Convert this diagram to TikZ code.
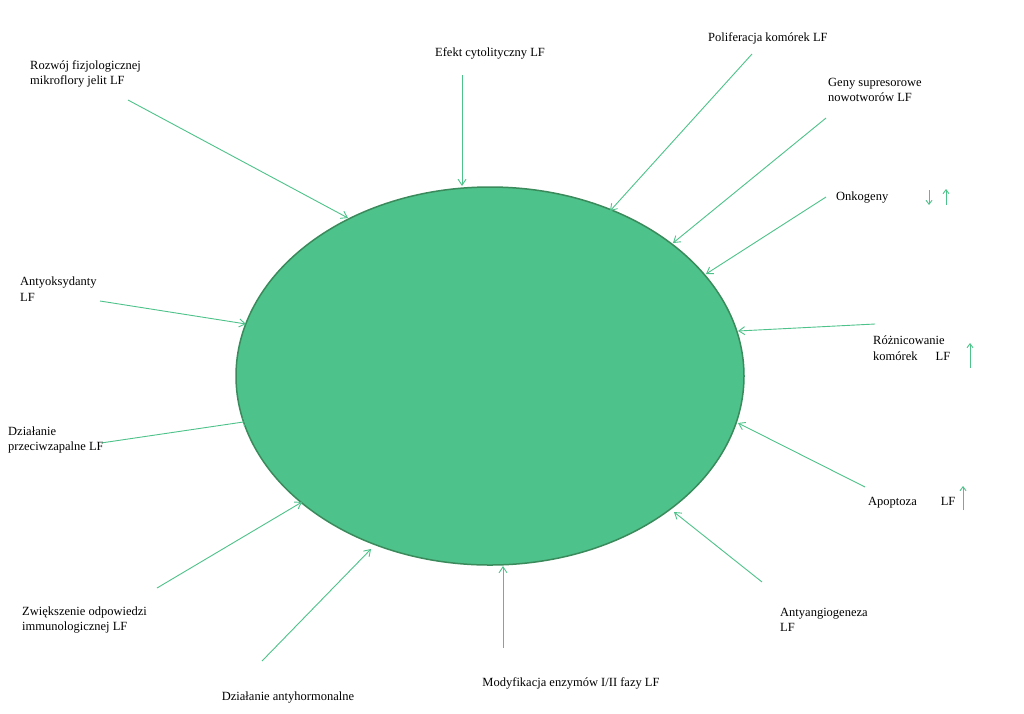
\documentclass[tikz,border=0pt]{standalone}
\usepackage{fontspec}
\setmainfont{Liberation Serif}
\usetikzlibrary{arrows.meta,shapes.geometric}
\definecolor{cellfill}{HTML}{4DC28A}
\definecolor{celledge}{HTML}{3A8A5C}
\definecolor{arrowgreen}{HTML}{4DC28A}
\tikzset{
  lab/.style={font=\fontsize{12.5}{15.5}\selectfont, align=left, inner sep=0pt},
  feed/.style={draw=arrowgreen, line width=0.9pt, -{Straight Barb[length=6pt,width=8pt]}},
  mini/.style={draw=arrowgreen, line width=0.9pt, -{Straight Barb[length=4pt,width=6pt]}}
}
\begin{document}
\begin{tikzpicture}[x=1pt,y=-1pt]
  \useasboundingbox (0,0) rectangle (1024,713);
  % central cell
  \node[ellipse, draw=celledge, line width=1.5pt, fill=cellfill,
        minimum width=508pt, minimum height=378pt] (cell) at (490,376) {};

  % labels
  \node[lab, anchor=west] (rozwoj) at (30,74) {Rozwój fizjologicznej\\mikroflory jelit LF};
  \node[lab] (efekt) at (490,53) {Efekt cytolityczny LF};
  \node[lab, anchor=west] (polif) at (708,38) {Poliferacja komórek LF};
  \node[lab, anchor=west] (geny) at (828,90) {Geny supresorowe\\nowotworów LF};
  \node[lab, anchor=west] (onko) at (836,198) {Onkogeny};
  \node[lab, anchor=west] (rozn) at (873,348) {Różnicowanie\\komórek\hspace{18pt}LF};
  \node[lab, anchor=west] (apo) at (868,503) {Apoptoza\hspace{24pt}LF};
  \node[lab, anchor=west] (angio) at (780,620) {Antyangiogeneza\\LF};
  \node[lab] (modyf) at (571,683) {Modyfikacja enzymów I/II fazy LF};
  \node[lab] (hormon) at (288,697) {Działanie antyhormonalne};
  \node[lab, anchor=west] (zwiek) at (22,620) {Zwiększenie odpowiedzi\\immunologicznej LF};
  \node[lab, anchor=west] (zapal) at (8,440) {Działanie\\przeciwzapalne LF};
  \node[lab, anchor=west] (oksy) at (20,289) {Antyoksydanty\\LF};

  % connectors
  \foreach \n/\sx/\sy/\ex/\ey in {
      a/128/100/348/218, b/462/75/462/186, c/752/54/610/211,
      d/826/118/673/243, e/826/197/706/274, f/875/324/738/331,
      g/865/487/738/423, h/762/582/674/512, i/503/648/503/566,
      j/262/661/371/549, k/157/588/302/502, l/101/443/250/421,
      m/100/301/246/324} {
    \coordinate (s\n) at (\sx,\sy);
    \coordinate (t\n) at (\ex,\ey);
    \draw[feed] (s\n) -- (t\n);
  }

  % small trend arrows
  \coordinate (o1) at (929,190); \coordinate (o2) at (929,205);
  \coordinate (o3) at (946,205); \coordinate (o4) at (946,189);
  \draw[mini] (o1) -- (o2);
  \draw[mini] (o3) -- (o4);
  \coordinate (r1) at (970,368); \coordinate (r2) at (970,343);
  \draw[mini] (r1) -- (r2);
  \coordinate (p1) at (963,510); \coordinate (p2) at (963,486);
  \draw[mini] (p1) -- (p2);
\end{tikzpicture}
\end{document}
